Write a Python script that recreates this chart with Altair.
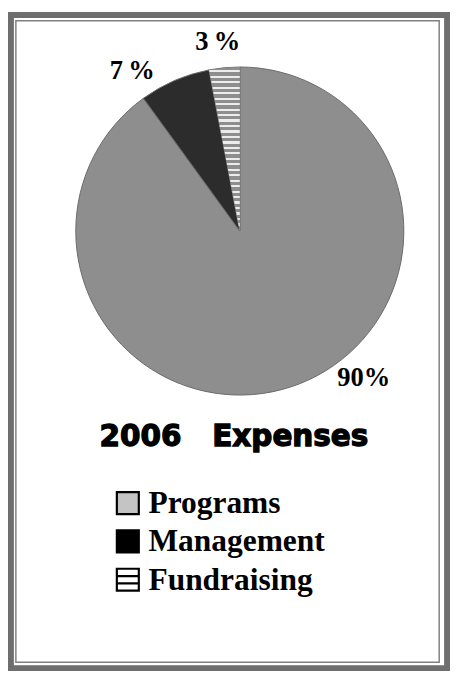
import altair as alt
import pandas as pd

# ---- data ----
categories = ["Programs", "Management", "Fundraising"]
percent = [90, 7, 3]
slice_labels = ["90%", "7\u2009%", "3\u2009%"]
title_text = "2006\u00a0\u00a0\u00a0Expenses"

# ---- styles ----
pie_colors = ["#8e8e8e", "#2c2c2c", "#8e8e8e"]
legend_fills = ["#c4c4c4", "#000000", "#ffffff"]
legend_shapes = ["square", "square", "M-1,-1H1V1H-1Z M-1,-0.33H1 M-1,0.33H1"]

df = pd.DataFrame({
    "cat": categories,
    "value": percent,
    "label": slice_labels,
    "idx": list(range(len(categories))),
})
one = pd.DataFrame({"k": [0]})

W, H = 450, 669
CX, CY, R = 236, 221, 167

# striped fill for the Fundraising slice (gradient with hard stops)
stops = []
n = 30
for i in range(n):
    a, b, c = i / n, (i + 0.6) / n, (i + 1) / n
    stops += [
        {"offset": a, "color": "#8e8e8e"},
        {"offset": b, "color": "#8e8e8e"},
        {"offset": b, "color": "#ececec"},
        {"offset": c, "color": "#ececec"},
    ]
stripe_fill = {"gradient": "linear", "x1": 0, "y1": 0, "x2": 0, "y2": 1, "stops": stops}

theta = alt.Theta("value:Q", stack=True)
order = alt.Order("idx:Q")

pie = alt.Chart(df).mark_arc(outerRadius=R, stroke="#6a6a6a", strokeWidth=1).encode(
    theta=theta,
    order=order,
    color=alt.Color("cat:N", scale=alt.Scale(domain=categories, range=pie_colors), legend=None),
    x=alt.value(CX),
    y=alt.value(CY),
)

stripes = alt.Chart(df).mark_arc(outerRadius=R, fill=stripe_fill, strokeWidth=0).encode(
    theta=theta,
    order=order,
    fillOpacity=alt.condition("datum.cat === 'Fundraising'", alt.value(1), alt.value(0)),
    x=alt.value(CX),
    y=alt.value(CY),
)


def slice_label(cat, dx, dy):
    return alt.Chart(df).mark_text(
        radius=195, dx=dx, dy=dy, font="Liberation Serif", fontWeight="bold",
        fontSize=27, color="black", baseline="middle", align="center",
    ).encode(
        theta=theta,
        order=order,
        text=alt.condition(f"datum.cat === '{cat}'", "label:N", alt.value("")),
        x=alt.value(CX),
        y=alt.value(CY),
    )


lab_p = slice_label("Programs", 66, -36)
lab_m = slice_label("Management", -32, 16)
lab_f = slice_label("Fundraising", -4, 2)

title = alt.Chart(one).mark_text(
    font="DejaVu Sans", fontWeight="bold", fontSize=30, color="black",
    stroke="black", strokeWidth=1.3,
    align="center", baseline="alphabetic",
).encode(x=alt.value(230), y=alt.value(440), text=alt.value(title_text))

ly = alt.Y("cat:N", scale=alt.Scale(type="point", domain=categories, range=[498, 576], padding=0), axis=None)

legend_pts = alt.Chart(df).mark_point(
    filled=True, size=500, stroke="black", strokeWidth=2.2, opacity=1
).encode(
    x=alt.value(122),
    y=ly,
    fill=alt.Fill("cat:N", scale=alt.Scale(domain=categories, range=legend_fills), legend=None),
    shape=alt.Shape("cat:N", scale=alt.Scale(domain=categories, range=legend_shapes), legend=None),
)

legend_txt = alt.Chart(df).mark_text(
    align="left", baseline="middle", font="Liberation Serif", fontWeight="bold",
    fontSize=32, color="black",
).encode(x=alt.value(143), y=ly, text="cat:N")

outer = alt.Chart(one).mark_rect(fillOpacity=0, stroke="#6e6e6e", strokeWidth=6).encode(
    x=alt.value(3), x2=alt.value(447), y=alt.value(1), y2=alt.value(666)
)
inner = alt.Chart(one).mark_rect(fillOpacity=0, stroke="#808080", strokeWidth=1.5).encode(
    x=alt.value(8), x2=alt.value(439), y=alt.value(7), y2=alt.value(660)
)

chart = alt.layer(
    outer, inner, pie, stripes, lab_p, lab_m, lab_f, title, legend_pts, legend_txt
).resolve_scale(
    color="independent", fill="independent"
).properties(
    width=W, height=H, padding=0, autosize="none", background="white"
).configure_view(strokeWidth=0)

chart.save("out.html", embed_options={"renderer": "svg", "actions": False})
